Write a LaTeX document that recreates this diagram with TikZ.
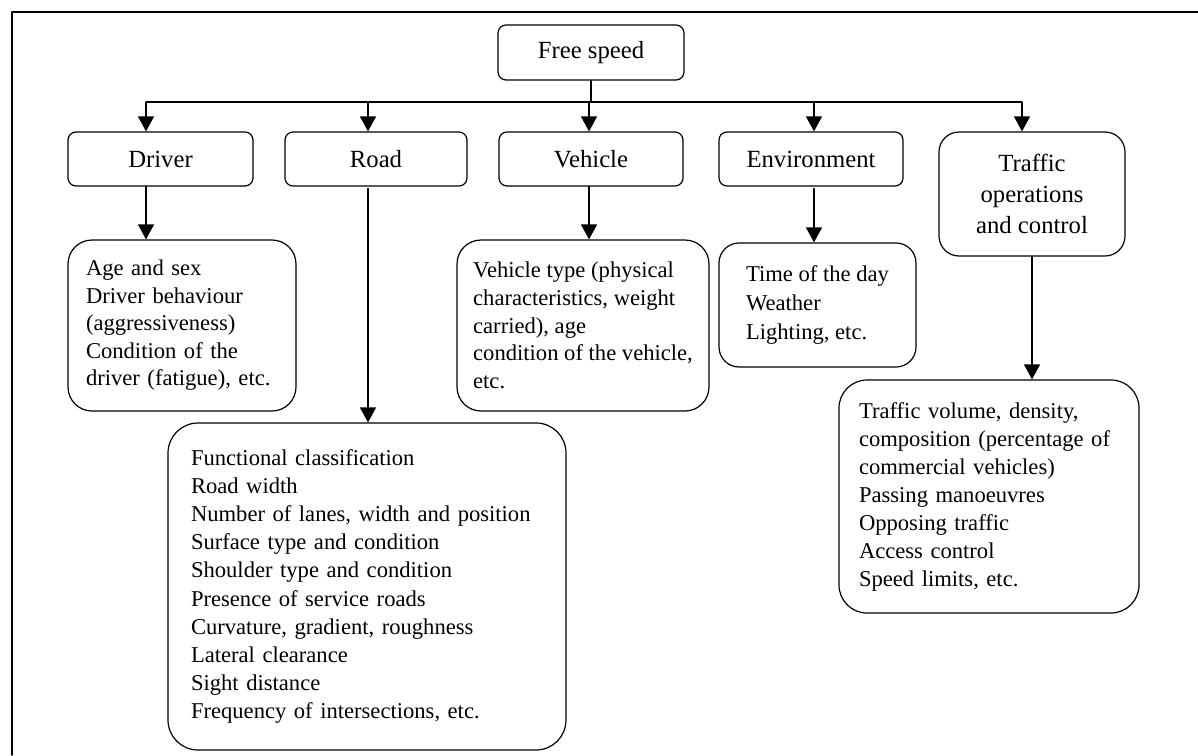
\documentclass[tikz,border=0pt]{standalone}
\usepackage{fontspec}
\setmainfont{Liberation Serif}
\usetikzlibrary{arrows.meta}
\tikzset{
  head/.style={draw,rounded corners=8pt,line width=1.2pt,align=center,inner sep=0pt,
    font=\fontsize{24.7}{31}\selectfont},
  info/.style={draw,rounded corners=24pt,line width=1.2pt,align=left,inner ysep=0pt,
    font=\fontsize{22.6}{28.2}\selectfont},
  arr/.style={line width=1.2pt,-{Triangle[length=15pt,width=16pt]}},
}
\begin{document}
\begin{tikzpicture}[x=1pt,y=-1pt,line cap=round,line join=round]
  \useasboundingbox (0,0) rectangle (1198,755);
  % frame
  \draw[line width=1.6pt] (12,755) -- (12,12) -- (1198,12);
  % top and second level
  \node[head,minimum width=186pt,minimum height=55pt] (free) at (591,52.5) {Free speed};
  \node[head,minimum width=185pt,minimum height=54pt] (driver) at (160.5,159) {Driver};
  \node[head,minimum width=182pt,minimum height=54pt] (road) at (376,159) {Road};
  \node[head,minimum width=184pt,minimum height=54pt] (vehicle) at (591,159) {Vehicle};
  \node[head,minimum width=184pt,minimum height=54pt] (env) at (811,159) {Environment};
  \node[head,rounded corners=20pt,minimum width=186pt,minimum height=124pt] (traffic) at (1032,194)
    {Traffic\\operations\\and control};
  % factor lists
  \node[info,text width=192pt,inner xsep=18pt,minimum height=171pt,
    font=\fontsize{22.6}{27.5}\selectfont] (drvinfo) at (182,325.5)
    {Age and sex\\Driver behaviour\\(aggressiveness)\\Condition of the\\driver (fatigue), etc.};
  \node[info,inner xsep=0pt,minimum width=252pt,minimum height=171pt,
    font=\fontsize{22.6}{27.8}\selectfont] (vehinfo) at (583,325.5)
    {Vehicle type (physical\\characteristics, weight\\carried), age\\condition of the vehicle,\\etc.};
  \node[info,rounded corners=20pt,inner xsep=0pt,minimum width=197pt,minimum height=124pt,
    font=\fontsize{22.6}{29}\selectfont] (envinfo) at (817.5,305)
    {Time of the day\\Weather\\Lighting, etc.};
  \node[info,rounded corners=30pt,text width=352pt,inner xsep=23pt,minimum height=327pt] (roadinfo) at (367,586.5)
    {Functional classification\\Road width\\Number of lanes, width and position\\Surface type and condition\\
     Shoulder type and condition\\Presence of service roads\\Curvature, gradient, roughness\\
     Lateral clearance\\Sight distance\\Frequency of intersections, etc.};
  \node[info,rounded corners=28pt,text width=260pt,inner xsep=20pt,minimum height=233pt,
    font=\fontsize{22.6}{28}\selectfont] (trafinfo) at (989,496.5)
    {Traffic volume, density,\\composition (percentage of\\commercial vehicles)\\Passing manoeuvres\\
     Opposing traffic\\Access control\\Speed limits, etc.};
  % distribution line
  \coordinate (tdrv) at (146,102);
  \coordinate (troad) at (368,102);
  \coordinate (tveh) at (589,102);
  \coordinate (tenv) at (814,102);
  \coordinate (ttraf) at (1022,102);
  \draw[line width=1.2pt] (free.south) -- (free.south |- tveh);
  \draw[line width=1.2pt] (tdrv) -- (ttraf);
  \foreach \t/\n in {tdrv/driver,troad/road,tveh/vehicle,tenv/env,ttraf/traffic}
    \draw[arr] (\t) -- (\t |- \n.north);
  % down to the lists
  \draw[arr] (driver.south -| tdrv) -- (tdrv |- drvinfo.north);
  \draw[arr] ([yshift=-2pt]road.south -| troad) -- (troad |- roadinfo.north);
  \draw[arr] (vehicle.south -| tveh) -- (tveh |- vehinfo.north);
  \draw[arr] ([yshift=-2pt]env.south -| tenv) -- (tenv |- envinfo.north);
  \draw[arr] (traffic.south) -- (traffic.south |- trafinfo.north);
\end{tikzpicture}
\end{document}
